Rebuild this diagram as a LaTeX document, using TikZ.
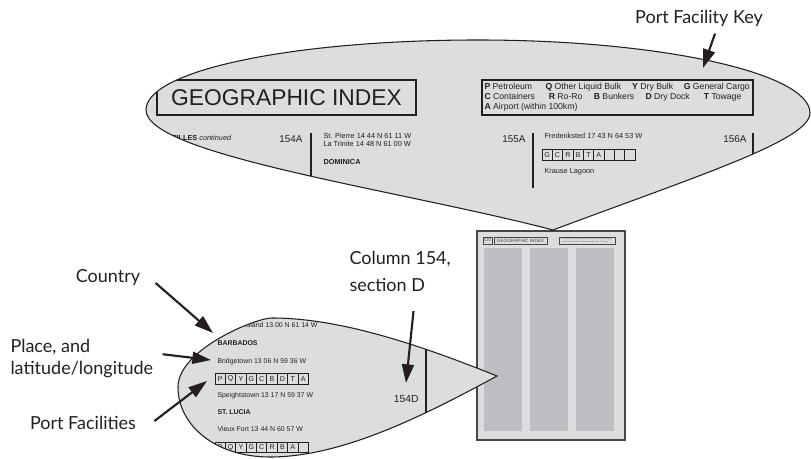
\documentclass[tikz,border=0pt]{standalone}
\usepackage{fontspec}
\setmainfont{Liberation Sans}
\newfontfamily\labelfont{Lato}
\usetikzlibrary{arrows.meta,calc}

\definecolor{balloongrey}{RGB}{220,221,223}
\definecolor{columngrey}{RGB}{189,190,193}
\definecolor{inkgrey}{RGB}{35,31,32}
\definecolor{pagegrey}{RGB}{70,70,72}

% outlines of the two magnifier balloons
\newcommand{\topballoon}{(553,230) .. controls (400,190) and (146,155) .. (146,110) .. controls (146,70) and (295,40) .. (478,40) .. controls (661,40) and (810,73) .. (810,113) .. controls (810,140) and (700,175) .. (553,230) -- cycle}
\newcommand{\lowballoon}{(497,376) .. controls (420,345) and (340,318) .. (272,318) .. controls (255,318) and (178,350) .. (178,387) .. controls (178,425) and (215,457) .. (270,457) .. controls (340,457) and (420,418) .. (497,376) -- cycle}

\tikzset{every picture/.style={line width=0.75pt}}
\tikzset{
  labeltext/.style={font=\labelfont\fontsize{13.5}{16}\selectfont, inner sep=0pt, text=inkgrey},
  pointer/.style={-{Triangle[length=14pt,width=9pt]}, line width=1.6pt, draw=inkgrey},
  smalltext/.style={font=\fontsize{5.5}{6.6}\selectfont, inner sep=0pt, anchor=base west, text=inkgrey},
  lowtext/.style={font=\fontsize{5.2}{6.2}\selectfont, inner sep=0pt, anchor=base west, text=inkgrey},
  keytext/.style={font=\fontsize{6.5}{7.5}\selectfont, inner sep=0pt, anchor=base west, text=inkgrey},
  colno/.style={font=\fontsize{7.4}{8.5}\selectfont, inner sep=0pt, anchor=base east, text=inkgrey},
  cellbox/.style={draw=inkgrey, line width=0.6pt, minimum width=7.78pt, minimum height=8pt, inner sep=0pt, font=\fontsize{5.3}{6}\selectfont, text=inkgrey},
  panel/.style={draw=inkgrey, line width=0.9pt, inner sep=0pt},
  tinybox/.style={draw=pagegrey, line width=0.6pt, inner sep=0pt, text=pagegrey}
}

\begin{document}
\begin{tikzpicture}[x=0.75pt,y=0.75pt,yscale=-1,xscale=1]
\useasboundingbox (0,0) rectangle (811,459);

%Shape: Page [id:page]
\draw [draw=pagegrey, fill=balloongrey, line width=1.1pt] (477,231) rectangle (625,440);
\fill [columngrey] (484,248) rectangle (522,431);
\fill [columngrey] (530,248) rectangle (568,431);
\fill [columngrey] (576,248) rectangle (614,431);
% page header
\node [tinybox, minimum width=6.75pt, minimum height=5.25pt, font=\fontsize{3.2}{3.5}\selectfont] (pageno) at (487.5,240.5) {120};
\node [tinybox, minimum width=39.75pt, minimum height=5.25pt, font=\fontsize{3.5}{3.8}\selectfont] (pagetitle) at (520.5,240.5) {GEOGRAPHIC INDEX};
\node [tinybox, minimum width=42pt, minimum height=5.25pt, font=\fontsize{1.3}{1.7}\selectfont, align=left] (pagekey) at (587,240.5) {\textbf{P} Petroleum \ \textbf{Q} Other Liquid Bulk \ \textbf{Y} Dry Bulk \ \textbf{G} General Cargo\\ \textbf{C} Containers \ \textbf{R} Ro-Ro \ \textbf{B} Bunkers \ \textbf{D} Dry Dock \ \textbf{T} Towage};

%Shape: Top balloon [id:topballoon]
\fill [balloongrey] \topballoon;
\begin{scope}
\clip \topballoon;
\node [panel, minimum width=194.25pt, minimum height=26.25pt, font=\fontsize{17.1}{20}\selectfont, text=inkgrey] (title) at (286.5,97.5) {GEOGRAPHIC INDEX};
\node [panel, minimum width=203.25pt, minimum height=26.25pt] (keybox) at (617.5,97.5) {};
% key entries
\node [keytext] (keyP) at (484,90) {\textbf{P} Petroleum};
\node [keytext] (keyQ) at (545,90) {\textbf{Q} Other Liquid Bulk};
\node [keytext] (keyY) at (631.7,90) {\textbf{Y} Dry Bulk};
\node [keytext] (keyG) at (683.3,90) {\textbf{G} General Cargo};
\node [keytext] (keyC) at (484,100) {\textbf{C} Containers};
\node [keytext] (keyR) at (548.3,100) {\textbf{R} Ro-Ro};
\node [keytext] (keyB) at (593.3,100) {\textbf{B} Bunkers};
\node [keytext] (keyD) at (645,100) {\textbf{D} Dry Dock};
\node [keytext] (keyT) at (703.3,100) {\textbf{T} Towage};
\node [keytext] (keyA) at (484,110) {\textbf{A} Airport (within 100km)};
% columns 154A to 156A
\node [smalltext] (antilles) at (161,140.7) {\textbf{ANTILLES} \textit{continued}};
\node [colno] (colA) at (303,142.7) {154A};
\draw [inkgrey, line width=0.9pt] (311,133) -- (311,200);
\node [smalltext] (stpierre) at (323,139) {St. Pierre 14 44 N 61 11 W};
\node [smalltext] (latrinite) at (323,146.5) {La Trinite 14 48 N 61 00 W};
\node [smalltext, font=\fontsize{5.5}{6.6}\selectfont\bfseries] (dominica) at (323,165) {DOMINICA};
\node [colno] (colB) at (526,142.7) {155A};
\draw [inkgrey, line width=0.9pt] (533,133) -- (533,188);
\node [smalltext] (frederiksted) at (544,139) {Frederiksted 17 43 N 64 53 W};
\foreach \c [count=\i from 0] in {G,C,R,B,T,A,{},{},{}}
  \node [cellbox] (tcell\i) at ({547.2+10.33*\i},154.8) {\c};
\node [smalltext] (krause) at (544,173.3) {Krause Lagoon};
\node [colno] (colC) at (747,142.7) {156A};
\draw [inkgrey, line width=0.9pt] (753,133) -- (753,200);
\end{scope}
\draw [inkgrey, line width=0.8pt] \topballoon;

%Shape: Lower balloon [id:lowballoon]
\fill [balloongrey] \lowballoon;
\begin{scope}
\clip \lowballoon;
\node [lowtext, anchor=base east] (bequia) at (318,327.3) {Bequia Island 13 00 N 61 14 W};
\node [lowtext, font=\fontsize{5.2}{6.2}\selectfont\bfseries] (barbados) at (217,346) {BARBADOS};
\node [lowtext] (bridgetown) at (217,363.3) {Bridgetown 13 06 N 59 36 W};
\foreach \c [count=\i from 0] in {P,Q,Y,G,C,B,D,T,A}
  \node [cellbox] (brow\i) at ({220.2+10.37*\i},378.7) {\c};
\node [lowtext] (speightstown) at (217,397.7) {Speightstown 13 17 N 59 37 W};
\node [lowtext, font=\fontsize{5.2}{6.2}\selectfont\bfseries] (stlucia) at (217,415) {ST. LUCIA};
\node [lowtext] (vieuxfort) at (217,431.7) {Vieux Fort 13 44 N 60 57 W};
\foreach \c [count=\i from 0] in {P,Q,Y,G,C,R,B,A,{}}
  \node [cellbox] (vrow\i) at ({220.2+10.37*\i},447.5) {\c};
\node [colno, font=\fontsize{7.7}{9}\selectfont] (colD) at (419,402.3) {154D};
\draw [inkgrey, line width=0.9pt] (426,300) -- (426,460);
\end{scope}
\draw [inkgrey, line width=0.8pt] \lowballoon;

% Text Node
\node [labeltext] (portkey) at (699,18) {Port Facility Key};
% Text Node
\node [labeltext] (country) at (108,278) {Country};
% Text Node
\node [labeltext, anchor=west] (place) at (10,347) {Place, and};
% Text Node
\node [labeltext, anchor=west] (latlong) at (10,370) {latitude/longitude};
% Text Node
\node [labeltext] (portfac) at (83,423) {Port Facilities};
% Text Node
\node [labeltext, anchor=west] (column) at (349,259) {Column 154,};
% Text Node
\node [labeltext, anchor=west] (section) at (349,285) {section D};

% arrow tips
\coordinate (keytip) at (703,68);
\coordinate (countrytip) at (213,333);
\coordinate (placetip) at (211,360);
\coordinate (factip) at (207,381);
\coordinate (columntip) at (406,383);

\draw [pointer] ($(portkey.south)+(16,7)$) -- (keytip);
\draw [pointer] ($(country.east)+(15,5)$) -- (countrytip);
\draw [pointer] ($(latlong.north east)+(9,-7)$) -- (placetip);
\draw [pointer] ($(portfac.east)+(18,-2)$) -- (factip);
\draw [pointer] ($(section.south east)+(-12,19)$) -- (columntip);

\end{tikzpicture}
\end{document}
